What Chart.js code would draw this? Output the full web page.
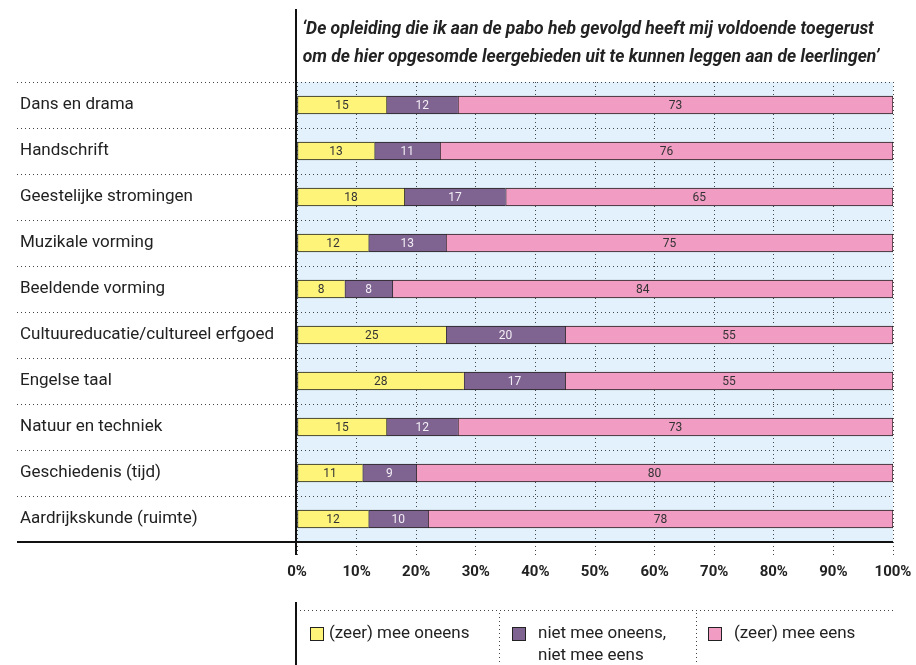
<!DOCTYPE html>
<html><head><meta charset="utf-8">
<script src="https://cdn.jsdelivr.net/npm/chart.js@4/dist/chart.umd.min.js"></script>
<style>html,body{margin:0;padding:0;background:#fff;}canvas{display:block;}</style>
</head><body>
<canvas id="c" width="916" height="665"></canvas>
<script>
const categories = ['Dans en drama','Handschrift','Geestelijke stromingen','Muzikale vorming','Beeldende vorming','Cultuureducatie/cultureel erfgoed','Engelse taal','Natuur en techniek','Geschiedenis (tijd)','Aardrijkskunde (ruimte)'];
const disagree = [15,13,18,12,8,25,28,15,11,12];
const neutral  = [12,11,17,13,8,20,17,12,9,10];
const agree    = [73,76,65,75,84,55,55,73,80,78];
const seriesNames = ['(zeer) mee oneens','niet mee oneens, niet mee eens','(zeer) mee eens'];
const legendLines = [['(zeer) mee oneens'],['niet mee oneens,','niet mee eens'],['(zeer) mee eens']];
const xTickLabels = ['0%','10%','20%','30%','40%','50%','60%','70%','80%','90%','100%'];
const titleLines = ['\u2018De opleiding die ik aan de pabo heb gevolgd heeft mij voldoende toegerust','om de hier opgesomde leergebieden uit te kunnen leggen aan de leerlingen\u2019'];

const TXT = '#222';
const DOT = '#444';
function line(ctx,x1,y1,x2,y2){ctx.beginPath();ctx.moveTo(x1,y1);ctx.lineTo(x2,y2);ctx.stroke();}

const deco = {
  id:'deco',
  beforeDraw(chart){
    const {ctx, chartArea:a} = chart;
    ctx.save();
    ctx.fillStyle = '#e2f1fb';
    ctx.fillRect(a.left, a.top, a.right-a.left, a.bottom-a.top);
    ctx.restore();
  },
  afterDatasetsDraw(chart){
    const ctx = chart.ctx;
    ctx.save();
    ctx.font = '12px Roboto';
    ctx.textAlign = 'center';
    ctx.textBaseline = 'middle';
    chart.data.datasets.forEach((ds,d)=>{
      const meta = chart.getDatasetMeta(d);
      ctx.fillStyle = ds.labelColor;
      meta.data.forEach((bar,i)=>{
        ctx.fillText(String(ds.data[i]), (bar.x+bar.base)/2, bar.y+0.5);
      });
    });
    ctx.restore();
  },
  afterDraw(chart){
    const {ctx, chartArea:a} = chart;
    const ys = chart.scales.y;
    ctx.save();
    ctx.strokeStyle = DOT; ctx.lineWidth = 1; ctx.setLineDash([1,3]);
    for(let i=0;i<categories.length;i++){
      const y = Math.round(ys.getPixelForValue(i-0.5))+0.5;
      line(ctx,17,y,a.right,y);
    }
    line(ctx,300,610.5,a.right,610.5);
    line(ctx,499.5,613,499.5,665);
    line(ctx,696.5,613,696.5,665);
    ctx.setLineDash([]);
    ctx.strokeStyle = '#111'; ctx.lineWidth = 2;
    line(ctx,17,a.bottom,a.right,a.bottom);
    line(ctx,a.left-1,9,a.left-1,a.bottom+13);
    line(ctx,a.left-1,602,a.left-1,665);
    ctx.fillStyle = TXT;
    ctx.font = 'italic bold 17.5px Roboto';
    ctx.textAlign = 'center'; ctx.textBaseline = 'alphabetic';
    ctx.fillText(titleLines[0], 588, 34);
    ctx.fillText(titleLines[1], 591, 62);
    const boxX = [310,512,708];
    const textX = [329,538,734];
    ctx.font = '17px Roboto';
    ctx.textAlign = 'left'; ctx.textBaseline = 'middle';
    chart.data.datasets.forEach((ds,d)=>{
      ctx.fillStyle = ds.backgroundColor;
      ctx.fillRect(boxX[d],627,14,14);
      ctx.strokeStyle = '#222'; ctx.lineWidth = 1;
      ctx.strokeRect(boxX[d]+0.5,627.5,13,13);
      ctx.fillStyle = TXT;
      legendLines[d].forEach((t,k)=>ctx.fillText(t,textX[d],634+k*22));
    });
    ctx.restore();
  }
};

const bw = {top:1,bottom:1,left:1,right:0};
new Chart(document.getElementById('c'),{
  type:'bar',
  data:{
    labels:categories,
    datasets:[
      {label:seriesNames[0], data:disagree, backgroundColor:'#fff47a', labelColor:'#333', borderColor:'#222', borderWidth:bw, borderSkipped:false, barThickness:18},
      {label:seriesNames[1], data:neutral,  backgroundColor:'#7f6391', labelColor:'#f2eef5', borderColor:'#222', borderWidth:bw, borderSkipped:false, barThickness:18},
      {label:seriesNames[2], data:agree,    backgroundColor:'#f09cc3', labelColor:'#333', borderColor:'#222', borderWidth:{top:1,bottom:1,left:1,right:1}, borderSkipped:false, barThickness:18}
    ]
  },
  options:{
    indexAxis:'y',
    responsive:false,
    devicePixelRatio:1,
    animation:false,
    layout:{padding:{left:20,right:23,top:82,bottom:0}},
    plugins:{legend:{display:false},tooltip:{enabled:false},title:{display:false}},
    scales:{
      x:{
        stacked:true, min:0, max:100, position:'bottom',
        ticks:{stepSize:10, autoSkip:false, maxRotation:0, padding:8, color:TXT,
               font:{family:'Roboto', weight:'bold', size:15},
               callback:(v,i)=>xTickLabels[i]},
        grid:{color:DOT, lineWidth:1, tickLength:13, tickColor:DOT, tickWidth:1, tickBorderDash:[1,3]},
        border:{display:false, dash:[1,3]},
        afterFit(s){ s.height = 123; s.paddingLeft = 0; s.paddingRight = 0; }
      },
      y:{
        stacked:true, position:'left',
        grid:{display:false}, border:{display:false},
        ticks:{crossAlign:'far', autoSkip:false, padding:0, color:TXT, font:{family:'Roboto', size:17}},
        afterFit(s){ s.width = 277; s.paddingTop = 0; s.paddingBottom = 0; }
      }
    }
  },
  plugins:[deco]
});
</script>
</body></html>
